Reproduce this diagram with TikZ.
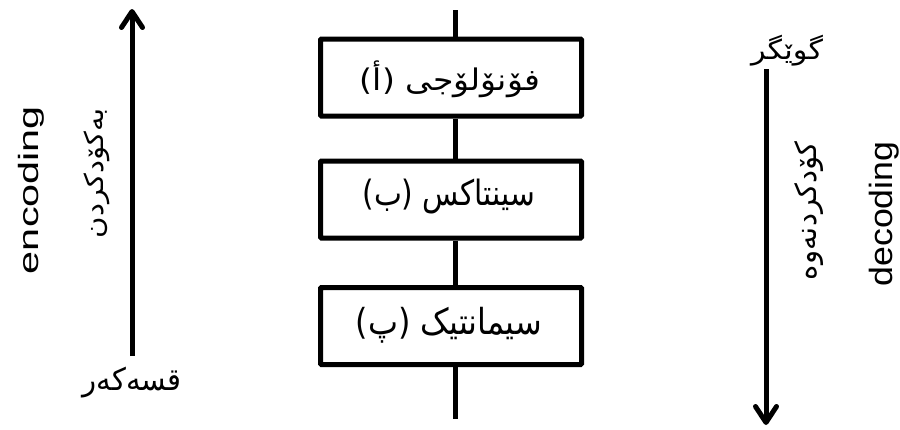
\documentclass[tikz,border=0pt]{standalone}
\usepackage{fontspec}
\setmainfont{Liberation Sans}
\newfontfamily\arabicfont[Script=Arabic]{DejaVu Sans}
\TeXXeTstate=1
\usetikzlibrary{arrows.meta}
\newcommand{\kurd}[1]{{\arabicfont\beginR #1\endR}}
\begin{document}
\begin{tikzpicture}[x=1pt,y=-1pt,
  boxst/.style={draw, line width=5pt, rounded corners=1pt, minimum width=261pt, minimum height=77pt, inner sep=0pt},
  conn/.style={line width=5pt},
  arr/.style={line width=5pt, -{Straight Barb[length=16pt,width=21pt,line cap=round,line join=round]}},
  txt/.style={inner sep=0pt}]
\useasboundingbox (0,0) rectangle (900,429);
% boxes
\node[boxst] (b1) at (451,77.5) {};
\node[boxst] (b2) at (451,199.5) {};
\node[boxst] (b3) at (451,326) {};
\node[txt] (t1) at (450,79) {\resizebox*{180pt}{37pt}{\kurd{فۆنۆلۆجی (أ)}}};
\node[txt] (t2) at (449,197) {\resizebox*{173pt}{35pt}{\kurd{سینتاکس (ب)}}};
\node[txt] (t3) at (449,325) {\resizebox*{186pt}{36pt}{\kurd{سیمانتیک (پ)}}};
% central line
\coordinate (top) at (455,10);
\coordinate (bot) at (455,419);
\draw[conn] (top) -- (top |- b1.north);
\draw[conn] (top |- b1.south) -- (top |- b2.north);
\draw[conn] (top |- b2.south) -- (top |- b3.north);
\draw[conn] (top |- b3.south) -- (bot);
% left arrow
\coordinate (lb) at (132,356);
\coordinate (lt) at (132,9);
\draw[arr] (lb) -- (lt);
\node[txt] (speaker) at (132,383) {\resizebox*{99pt}{31pt}{\kurd{قسەکەر}}};
\node[txt, rotate=90] (enc) at (31,190) {\resizebox*{168pt}{26pt}{encoding}};
\node[txt, rotate=90] (encku) at (97,173) {\resizebox*{130pt}{26pt}{\kurd{بەکۆدکردن}}};
% right arrow
\coordinate (rt) at (766,69);
\coordinate (rb) at (766,425);
\draw[arr] (rt) -- (rb);
\node[txt] (listener) at (787,51) {\resizebox*{72pt}{31pt}{\kurd{گوێگر}}};
\node[txt, rotate=90] (decku) at (809,211) {\resizebox*{138pt}{29pt}{\kurd{کۆدکردنەوە}}};
\node[txt, rotate=90] (dec) at (884,214) {\resizebox*{145pt}{30pt}{decoding}};
\end{tikzpicture}
\end{document}
